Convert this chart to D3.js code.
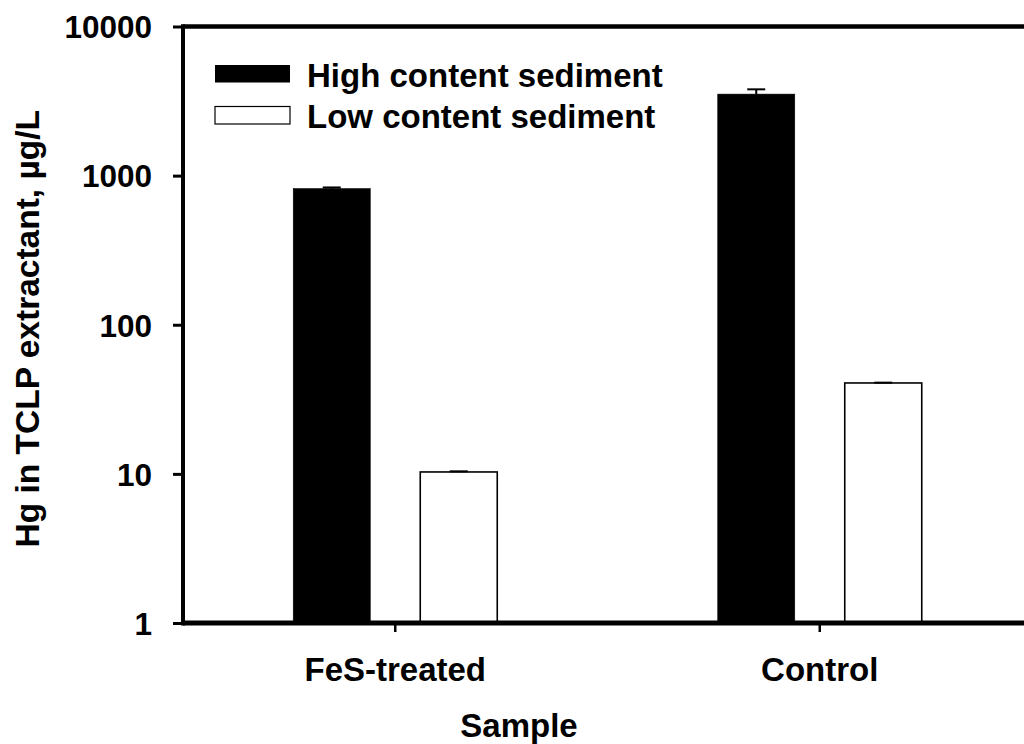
<!DOCTYPE html>
<html>
<head>
<meta charset="utf-8">
<script src="https://cdn.jsdelivr.net/npm/d3@7"></script>
<style>
  html, body { margin: 0; padding: 0; background: #fff; }
  svg { display: block; font-family: "Liberation Sans", Arial, sans-serif; font-weight: bold; }
</style>
</head>
<body>
<svg id="chart" width="1024" height="744"></svg>
<script>
// Hg leached in TCLP extractant by sample and sediment type
const samples = ["FeS-treated", "Control"];
const seriesNames = ["High content sediment", "Low content sediment"];
const highValues = [818, 3520];
const highErrors = [15, 270];
const lowValues = [10.3, 40.7];
const lowErrors = [0.1, 0.2];
const yTicks = [1, 10, 100, 1000, 10000];

const seriesValues = [highValues, lowValues];
const seriesErrors = [highErrors, lowErrors];
const seriesFill = ["#000", "#fff"];

const svg = d3.select("#chart");
const plotLeft = 183, plotRight = 1032, plotTop = 26.5, plotBottom = 623;
const fontFamily = "'Liberation Sans', Arial, sans-serif";

const y = d3.scaleLog().domain([1, 10000]).range([plotBottom, plotTop]);
const x0 = d3.scaleBand().domain(samples).range([plotLeft, plotRight]);
const half = x0.bandwidth() / 2;
const x1 = d3.scaleBand().domain(seriesNames)
  .range([half - 102, half + 102]).paddingInner(50 / 127);

// bars
seriesNames.forEach((name, si) => {
  const g = svg.append("g");
  samples.forEach((s, i) => {
    const v = seriesValues[si][i];
    const bx = x0(s) + x1(name);
    g.append("rect")
      .attr("x", bx)
      .attr("y", y(v))
      .attr("width", x1.bandwidth())
      .attr("height", y(1) - y(v))
      .attr("fill", seriesFill[si])
      .attr("stroke", "#000")
      .attr("stroke-width", si === 0 ? 0.6 : 1.6);
    // upper error bar
    const e = seriesErrors[si][i];
    const cx = bx + x1.bandwidth() / 2;
    g.append("line")
      .attr("x1", cx).attr("x2", cx)
      .attr("y1", y(v)).attr("y2", y(v + e))
      .attr("stroke", "#000").attr("stroke-width", 2);
    g.append("line")
      .attr("x1", cx - 9).attr("x2", cx + 9)
      .attr("y1", y(v + e)).attr("y2", y(v + e))
      .attr("stroke", "#000").attr("stroke-width", 2);
  });
});

// y axis
const yAxis = d3.axisLeft(y).tickValues(yTicks).tickFormat(d3.format("d"))
  .tickSize(10).tickPadding(21);
const gy = svg.append("g").attr("transform", `translate(${plotLeft},0)`).call(yAxis);
gy.select(".domain").remove();
gy.selectAll(".tick line").attr("stroke", "#000").attr("stroke-width", 3);
gy.selectAll(".tick text").attr("fill", "#000")
  .style("font-size", "31.5px").style("font-weight", "bold")
  .style("font-family", fontFamily).attr("dy", "0.36em");

// x axis
const xAxis = d3.axisBottom(x0).tickSize(9).tickPadding(26);
const gx = svg.append("g").attr("transform", `translate(0,${plotBottom})`).call(xAxis);
gx.select(".domain").remove();
gx.selectAll(".tick line").attr("stroke", "#000").attr("stroke-width", 2.5);
gx.selectAll(".tick text").attr("fill", "#000")
  .style("font-size", "33px").style("font-weight", "bold")
  .style("font-family", fontFamily);

// frame lines
svg.append("line").attr("x1", plotLeft).attr("x2", 1024).attr("y1", plotTop).attr("y2", plotTop)
  .attr("stroke", "#000").attr("stroke-width", 4.5);
svg.append("line").attr("x1", plotLeft).attr("x2", 1024).attr("y1", plotBottom).attr("y2", plotBottom)
  .attr("stroke", "#000").attr("stroke-width", 5);
svg.append("line").attr("x1", plotLeft).attr("x2", plotLeft)
  .attr("y1", plotTop - 2.2).attr("y2", plotBottom + 2.5)
  .attr("stroke", "#000").attr("stroke-width", 4);

// axis titles
svg.append("text").attr("x", 519).attr("y", 737).attr("text-anchor", "middle")
  .style("font-size", "33px").text("Sample");
svg.append("text").attr("transform", `translate(39,${(plotTop + plotBottom) / 2 + 4}) rotate(-90)`)
  .attr("text-anchor", "middle").style("font-size", "33.5px")
  .text("Hg in TCLP extractant, \u00b5g/L");

// legend
const legend = svg.append("g");
seriesNames.forEach((name, i) => {
  const ly = 65 + i * 41.5;
  legend.append("rect").attr("x", 215).attr("y", ly).attr("width", 75).attr("height", 17.5)
    .attr("fill", seriesFill[i]).attr("stroke", "#000").attr("stroke-width", i === 0 ? 0 : 1.2);
  legend.append("text").attr("x", 307).attr("y", ly + 21.5)
    .style("font-size", "33px").text(name);
});
</script>
</body>
</html>
